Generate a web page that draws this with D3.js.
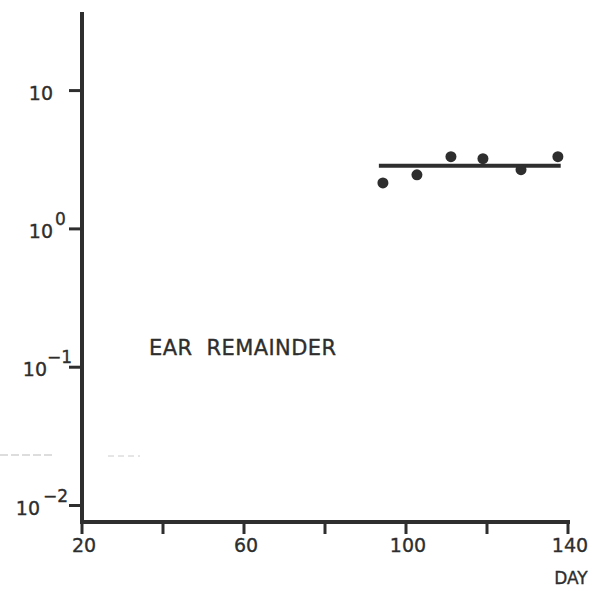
<!DOCTYPE html>
<html>
<head>
<meta charset="utf-8">
<script src="https://cdn.jsdelivr.net/npm/d3@7"></script>
<style>
  body { margin: 0; background: #fff; }
  text { font-family: "DejaVu Sans", sans-serif; fill: #2e2e2e; stroke: #2e2e2e; stroke-width: 0.35; }
</style>
</head>
<body>
<svg id="chart" width="603" height="591"></svg>
<script>
// data
var days = [94.3, 102.7, 111.1, 119.0, 128.4, 137.5];
var values = [2.15, 2.46, 3.33, 3.22, 2.68, 3.33];
var fitDays = [93.3, 138.2];
var fitValue = 2.86;
var xTicks = [20, 40, 60, 80, 100, 120, 140];
var xLabels = [20, 60, 100, 140];
var yTicks = [10, 1, 0.1, 0.01];
var yExp = ["", "0", "\u22121", "\u22122"];

var svg = d3.select("#chart");
var ink = "#2e2e2e";

var x = d3.scaleLinear().domain([20, 140]).range([82, 568]);
var y = d3.scaleLog().domain([0.0076, 37]).range([522, 12]);

// stray scan dashes
svg.append("line").attr("x1", 0).attr("x2", 52).attr("y1", 455).attr("y2", 455)
  .attr("stroke", "#bbb").attr("stroke-width", 1).attr("stroke-dasharray", "8,3");
svg.append("line").attr("x1", 108).attr("x2", 140).attr("y1", 456).attr("y2", 456)
  .attr("stroke", "#ccc").attr("stroke-width", 1).attr("stroke-dasharray", "6,4");

// axes
svg.append("line").attr("x1", x(20)).attr("x2", x(20)).attr("y1", y.range()[1]).attr("y2", y.range()[0])
  .attr("stroke", ink).attr("stroke-width", 4);
svg.append("line").attr("x1", x(20) - 2).attr("x2", x(140) + 2).attr("y1", y.range()[0]).attr("y2", y.range()[0])
  .attr("stroke", ink).attr("stroke-width", 4);

svg.selectAll(".xt").data(xTicks).enter().append("line")
  .attr("x1", function(d) { return x(d); }).attr("x2", function(d) { return x(d); })
  .attr("y1", y.range()[0]).attr("y2", y.range()[0] + 12)
  .attr("stroke", ink).attr("stroke-width", 3);

svg.selectAll(".xl").data(xLabels).enter().append("text")
  .attr("x", function(d) { return x(d) + 2; }).attr("y", 552)
  .attr("text-anchor", "middle").attr("font-size", 19)
  .text(function(d) { return d; });

svg.append("text").attr("x", 571).attr("y", 584).attr("text-anchor", "middle")
  .attr("font-size", 17).text("DAY");

svg.selectAll(".yt").data(yTicks).enter().append("line")
  .attr("x1", x(20) - 13).attr("x2", x(20))
  .attr("y1", function(d) { return y(d); }).attr("y2", function(d) { return y(d); })
  .attr("stroke", ink).attr("stroke-width", 3);

var baseEnd = [53, 53, 47, 40];
var expStart = [0, 55, 47, 43];
svg.selectAll(".yl").data(yTicks).enter().append("text")
  .attr("x", function(d, i) { return baseEnd[i]; })
  .attr("y", function(d) { return y(d) + 9; })
  .attr("text-anchor", "end").attr("font-size", 19)
  .text("10");
svg.selectAll(".ye").data(yTicks).enter().append("text")
  .attr("x", function(d, i) { return expStart[i]; })
  .attr("y", function(d) { return y(d) - 4; })
  .attr("font-size", 17)
  .text(function(d, i) { return yExp[i]; });

// label
svg.append("text").attr("x", 149).attr("y", 355).attr("font-size", 21)
  .attr("letter-spacing", 0.4)
  .attr("xml:space", "preserve").text("EAR  REMAINDER");

// fitted line
svg.append("line").attr("x1", x(fitDays[0])).attr("x2", x(fitDays[1]))
  .attr("y1", y(fitValue)).attr("y2", y(fitValue))
  .attr("stroke", ink).attr("stroke-width", 4);

// points
svg.selectAll(".pt").data(days).enter().append("circle")
  .attr("cx", function(d) { return x(d); })
  .attr("cy", function(d, i) { return y(values[i]); })
  .attr("r", 5.5).attr("fill", ink);
</script>
</body>
</html>
